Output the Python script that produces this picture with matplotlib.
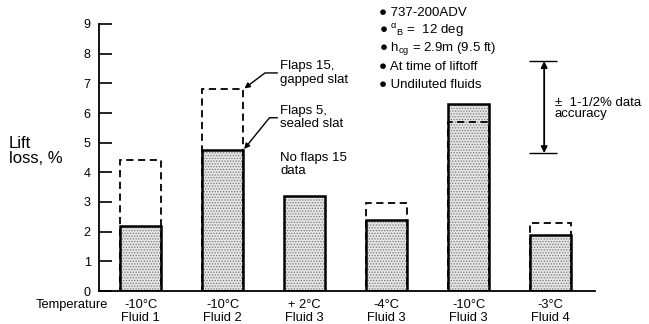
import matplotlib
matplotlib.use('Agg')
import matplotlib.pyplot as plt
import numpy as np

plt.rcParams['font.family'] = ['Liberation Sans', 'DejaVu Sans']
plt.rcParams['mathtext.fontset'] = 'custom'
plt.rcParams['mathtext.rm'] = 'Liberation Sans'
plt.rcParams['mathtext.it'] = 'Liberation Sans'
plt.rcParams['hatch.linewidth'] = 0.6

# 数据
temps = ['-10°C', '-10°C', '+ 2°C', '-4°C', '-10°C', '-3°C']
fluids = ['Fluid 1', 'Fluid 2', 'Fluid 3', 'Fluid 3', 'Fluid 3', 'Fluid 4']
flaps5_sealed = [2.2, 4.75, 3.2, 2.4, 6.3, 1.9]
flaps15_gapped = [4.4, 6.8, np.nan, 2.95, 5.7, 2.3]
notes = ['737-200ADV', r'$^\alpha$$_\mathregular{B}$ =  12 deg', r'h$_\mathregular{cg}$ = 2.9m (9.5 ft)',
         'At time of liftoff', 'Undiluted fluids']
acc_center, acc_half = 6.2, 1.55

W, H = 649, 324
fig = plt.figure(figsize=(W / 100, H / 100), dpi=100)
ax = fig.add_axes([99 / W, 33 / H, 496 / W, 267 / H])

x = np.arange(len(temps))
bw = 0.5

# 点状填充
ax.bar(x, flaps5_sealed, width=bw, facecolor='#e4e4e4', edgecolor='#7a7a7a',
       hatch='......', linewidth=0, zorder=1)
# 襟翼15 (虚线)
f15 = np.array(flaps15_gapped)
ok = ~np.isnan(f15)
ax.bar(x[ok], f15[ok], width=bw, fill=False, edgecolor='black',
       linestyle=(0, (4, 2.5)), linewidth=1.3, zorder=2)
# 襟翼5 (实线)
ax.bar(x, flaps5_sealed, width=bw, fill=False, edgecolor='black',
       linewidth=1.8, zorder=3)

ax.set_xlim(-0.51, 5.54)
ax.set_ylim(0, 9)
ax.set_yticks(range(10))
ax.tick_params(axis='y', direction='in', length=9.5, width=1.2, labelsize=9, pad=6)
ax.set_xticks(x, [f'{t}\n{f}' for t, f in zip(temps, fluids)])
ax.tick_params(axis='x', length=0, labelsize=9.3, pad=6)
for lab in ax.get_xticklabels():
    lab.set_linespacing(1.1)
for s in ['top', 'right']:
    ax.spines[s].set_visible(False)
ax.spines['left'].set_linewidth(1.3)
ax.spines['bottom'].set_linewidth(1.3)

fig.text(9 / W, 1 - 151 / H, 'Lift\nloss, %', fontsize=12, ha='left', va='center',
         linespacing=0.95)
fig.text(36 / W, 1 - 305 / H, 'Temperature', fontsize=9.3, ha='left', va='center')

# 标注
ax.annotate('Flaps 15,\ngapped slat', xy=(x[1] + bw / 2, f15[1]), xytext=(1.70, 7.35),
            fontsize=9.5, ha='left', va='center', linespacing=1.15,
            arrowprops=dict(arrowstyle='-|>', lw=1.0, color='black', shrinkA=0, shrinkB=1,
                            mutation_scale=8,
                            connectionstyle='angle,angleA=180,angleB=37,rad=0'))
ax.annotate('Flaps 5,\nsealed slat', xy=(x[1] + bw / 2, flaps5_sealed[1]), xytext=(1.70, 5.84),
            fontsize=9.5, ha='left', va='center', linespacing=1.15,
            arrowprops=dict(arrowstyle='-|>', lw=1.0, color='black', shrinkA=0, shrinkB=1,
                            mutation_scale=8,
                            connectionstyle='angle,angleA=180,angleB=51,rad=0'))
ax.text(1.70, 4.27, 'No flaps 15\ndata', fontsize=9.5, ha='left', va='center', linespacing=1.15)

for i, n in enumerate(notes):
    fig.text(379 / W, 1 - (13 + i * 18) / H, '\u25cf ' + n, fontsize=9.5, ha='left', va='center')

# 精度范围
xe = 4.92
ax.annotate('', xy=(xe, acc_center + acc_half), xytext=(xe, acc_center - acc_half),
            arrowprops=dict(arrowstyle='<|-|>', lw=1.3, color='black', shrinkA=0, shrinkB=0,
                            mutation_scale=9))
ax.hlines([acc_center - acc_half, acc_center + acc_half], xe - 0.18, xe + 0.16,
          color='black', lw=1.0)
ax.text(5.05, acc_center - 0.05, '\u00b1  1-1/2% data\naccuracy', fontsize=9.5, ha='left',
        va='center', linespacing=0.95)

fig.savefig('out.png', dpi=100)
